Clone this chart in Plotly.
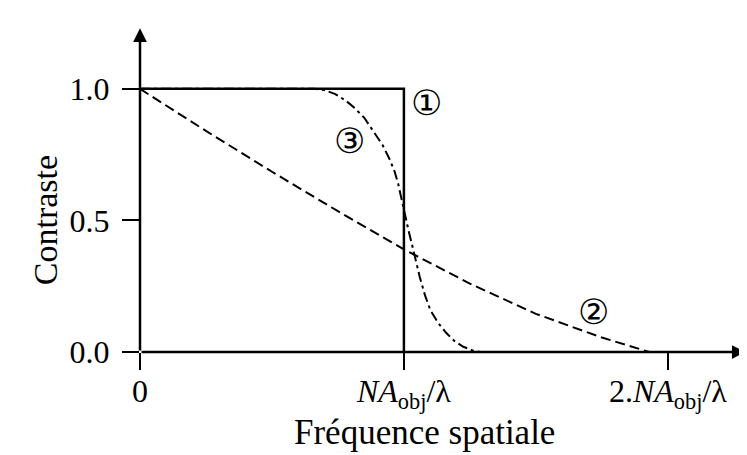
import plotly.graph_objects as go

# curve 1: ideal step (coherent cutoff)
step_x = [0, 1, 1]
step_y = [1.0, 1.0, 0.0]

# curve 2: incoherent transfer, dashed
incoh_x = [0, 0.25, 0.5, 0.75, 1.0, 1.25, 1.5, 1.75, 1.93]
incoh_y = [1.0, 0.84, 0.685, 0.535, 0.39, 0.26, 0.145, 0.055, 0.0]

# curve 3: dash-dot
c3_x = [0, 0.35, 0.66, 0.70, 0.74, 0.78, 0.81, 0.85, 0.885, 0.92, 0.947, 0.965, 0.978,
        0.99, 1.0, 1.018, 1.035, 1.06, 1.08, 1.10, 1.13, 1.16, 1.19, 1.225, 1.26, 1.29]
c3_y = [1.0, 1.0, 1.0, 0.995, 0.98, 0.955, 0.93, 0.89, 0.84, 0.785, 0.73, 0.685, 0.64,
        0.585, 0.53, 0.46, 0.39, 0.285, 0.215, 0.16, 0.11, 0.073, 0.043, 0.02, 0.006, 0.0]

# labels
x_ticks = [0, 1, 2]
x_ticktext = ["0", "<i>NA</i><sub>obj</sub>/λ", "2.<i>NA</i><sub>obj</sub>/λ"]
y_ticks = [0, 0.5, 1.0]
y_ticktext = ["0.0", "0.5", "1.0"]
marks = ["①", "②", "③"]
mark_x = [1.086, 1.717, 0.795]
mark_y = [0.948, 0.153, 0.803]

serif = "Liberation Serif, Times New Roman, serif"

fig = go.Figure()
fig.add_trace(go.Scatter(x=step_x, y=step_y, mode="lines",
                         line=dict(color="black", width=2.5)))
fig.add_trace(go.Scatter(x=incoh_x, y=incoh_y, mode="lines",
                         line=dict(color="black", width=2, dash="10px,5px")))
fig.add_trace(go.Scatter(x=c3_x, y=c3_y, mode="lines",
                         line=dict(color="black", width=2, dash="10px,4px,3px,4px")))

# circled curve numbers
for t, x, y in zip(marks, mark_x, mark_y):
    fig.add_annotation(x=x, y=y, text=t, showarrow=False,
                       font=dict(family="DejaVu Sans", size=35, color="black"))

# axes drawn as arrows
fig.add_annotation(x=2.295, y=0, ax=0, ay=0, xref="x", yref="y",
                   axref="x", ayref="y", text="", showarrow=True,
                   arrowhead=2, arrowsize=1.1, arrowwidth=2.5, arrowcolor="black")
fig.add_annotation(x=0, y=1.23, ax=0, ay=0, xref="x", yref="y",
                   axref="x", ayref="y", text="", showarrow=True,
                   arrowhead=2, arrowsize=1.1, arrowwidth=2.5, arrowcolor="black")

# axis titles
fig.add_annotation(x=0.468, y=-0.249, xref="paper", yref="paper", text="Fréquence spatiale",
                   showarrow=False, yanchor="middle",
                   font=dict(family=serif, size=35, color="black"))
fig.add_annotation(x=-0.189, y=0.5, xref="paper", yref="y", text="Contraste",
                   textangle=-90, showarrow=False,
                   font=dict(family=serif, size=34, color="black"))

# page body adds an 8px offset, so the figure is 8px smaller on each axis
fig.update_layout(
    width=739, height=447,
    margin=dict(l=132, r=0, t=19, b=103, autoexpand=False),
    plot_bgcolor="white", paper_bgcolor="white",
    showlegend=False,
    font=dict(family=serif, size=32, color="black"),
)
fig.update_xaxes(range=[0, 2.30], showgrid=False, zeroline=False, showline=False,
                 tickvals=x_ticks, ticktext=x_ticktext, ticks="outside",
                 ticklen=17, tickwidth=2, tickcolor="black", automargin=False,
                 ticklabelstandoff=-6)
fig.update_yaxes(range=[0, 1.235], showgrid=False, zeroline=False, showline=False,
                 tickvals=y_ticks, ticktext=y_ticktext, ticks="outside",
                 ticklen=17, tickwidth=2, tickcolor="black", automargin=False,
                 ticklabelstandoff=6)

fig.write_html("out.html")
